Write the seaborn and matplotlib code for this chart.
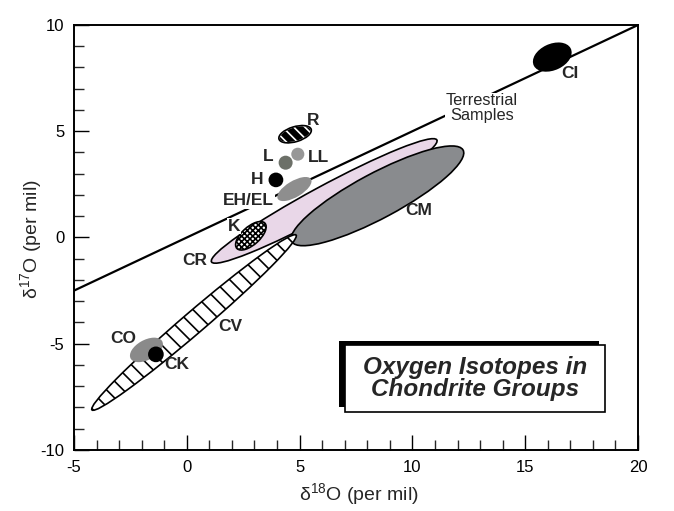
import numpy as np
import pandas as pd
import matplotlib.pyplot as plt
import seaborn as sns
import matplotlib.patheffects as pe
from matplotlib.patches import Ellipse, Rectangle
from matplotlib.ticker import MultipleLocator

# Terrestrial fractionation line (delta18O, delta17O)
terr_x = [-5, 20]
terr_y = [-2.5, 10]

# Chondrite group fields: centre, long axis, short axis, tilt (data units / degrees)
groups = ['CV', 'CR', 'CM', 'K', 'EH/EL', 'H', 'L', 'LL', 'R', 'CO', 'CK', 'CI']
cen_x = [0.32, 6.09, 8.45, 2.84, 4.77, 3.95, 4.38, 4.92, 4.80, -1.79, -1.37, 16.20]
cen_y = [-4.00, 1.72, 1.96, 0.08, 2.28, 2.71, 3.52, 3.92, 4.86, -5.29, -5.50, 8.49]
long_ax = [12.23, 11.52, 8.73, 1.72, 1.74, 0.58, 0.62, 0.58, 1.50, 1.62, 0.62, 1.75]
short_ax = [1.00, 1.35, 2.10, 0.82, 0.75, 0.61, 0.66, 0.61, 0.70, 0.92, 0.66, 1.15]
tilt = [42.3, 29.9, 29.7, 44.5, 32.8, 0, 0, 0, 18.3, 31.5, 0, 27.0]

# Labels
label_text = ['CI', 'Terrestrial\nSamples', 'R', 'L', 'LL', 'H', 'EH/EL', 'K',
              'CR', 'CM', 'CV', 'CO', 'CK']
label_x = [16.96, 13.07, 5.58, 3.61, 5.83, 3.10, 2.73, 2.11, 0.33, 10.26, 1.91, -2.81, -0.45]
label_y = [7.73, 6.08, 5.50, 3.80, 3.77, 2.71, 1.72, 0.54, -1.09, 1.25, -4.20, -4.74, -6.00]
masked = ['Terrestrial\nSamples', 'K', 'EH/EL']

# fill / hatch style per group
style = {
    'CV':    dict(fc='white', ec='black', hatch='\\\\', z=4),
    'CR':    dict(fc='#e9d7e8', ec='black', hatch=None, z=2),
    'CM':    dict(fc='#898b8e', ec='black', hatch=None, z=3),
    'K':     dict(fc='white', ec='black', hatch='xxxxxx', z=5),
    'EH/EL': dict(fc='#8e8e8e', ec='none', hatch=None, z=5),
    'H':     dict(fc='black', ec='black', hatch=None, z=5),
    'L':     dict(fc='#6c7068', ec='none', hatch=None, z=5),
    'LL':    dict(fc='#979797', ec='none', hatch=None, z=5),
    'R':     dict(fc='black', ec='white', hatch='\\\\\\', z=5),
    'CO':    dict(fc='#8a8a8a', ec='none', hatch=None, z=5),
    'CK':    dict(fc='black', ec='black', hatch=None, z=6),
    'CI':    dict(fc='black', ec='black', hatch=None, z=5),
}

sns.set_theme(style='ticks')
plt.rcParams['font.family'] = ['Liberation Sans', 'DejaVu Sans']
plt.rcParams['mathtext.fontset'] = 'custom'
plt.rcParams['mathtext.rm'] = 'Liberation Sans'
plt.rcParams['axes.unicode_minus'] = False
plt.rcParams['hatch.linewidth'] = 1.2

fig = plt.figure(figsize=(6.74, 5.11), dpi=100)
ax = fig.add_axes([0.1098, 0.1194, 0.8368, 0.8317])

sns.lineplot(x=terr_x, y=terr_y, color='black', lw=1.6, ax=ax, zorder=1)

for g, x, y, w, h, a in zip(groups, cen_x, cen_y, long_ax, short_ax, tilt):
    s = style[g]
    e = Ellipse((x, y), w, h, angle=a, facecolor=s['fc'], edgecolor=s['ec'],
                hatch=s['hatch'], lw=1.2, zorder=s['z'])
    ax.add_patch(e)
    if g == 'R':
        ax.add_patch(Ellipse((x, y), w, h, angle=a, fill=False, edgecolor='black',
                             lw=1.2, zorder=s['z'] + 0.1))

for t, x, y in zip(label_text, label_x, label_y):
    bold = not t.startswith('Terrestrial')
    bbox = dict(fc='white', ec='none', pad=0.5) if t in masked else None
    ax.text(x, y, t, ha='center', va='center', fontsize=12.5 if bold else 11.8,
            fontweight='bold' if bold else 'normal', linespacing=1.0,
            bbox=bbox, zorder=7)

# title box with drop shadow
box = Rectangle((0.480, 0.090), 0.461, 0.157, transform=ax.transAxes,
                facecolor='white', edgecolor='black', lw=1.2, zorder=8)
box.set_path_effects([pe.SimplePatchShadow(offset=(-4.0, 3.2), shadow_rgbFace='black', alpha=1),
                      pe.Normal()])
ax.add_patch(box)
ax.text(0.711, 0.169, 'Oxygen Isotopes in\nChondrite Groups', transform=ax.transAxes,
        ha='center', va='center', fontsize=17.5, fontweight='bold', style='italic',
        linespacing=0.95, zorder=9)

ax.set_xlim(-5, 20)
ax.set_ylim(-10, 10)
ax.xaxis.set_major_locator(MultipleLocator(5))
ax.xaxis.set_minor_locator(MultipleLocator(1))
ax.yaxis.set_major_locator(MultipleLocator(5))
ax.yaxis.set_minor_locator(MultipleLocator(1))
ax.tick_params(which='major', direction='in', length=10.5, width=1, labelsize=12,
               pad=7, top=False, right=False, colors='black')
ax.tick_params(which='minor', direction='in', length=7.5, width=1, top=False, right=False)
for sp in ax.spines.values():
    sp.set_visible(True)
    sp.set_linewidth(1.4)
    sp.set_color('black')

ax.set_xlabel(r'δ$^{\mathregular{18}}$O (per mil)', fontsize=14)
ax.set_ylabel(r'δ$^{\mathregular{17}}$O (per mil)', fontsize=14)
ax.xaxis.set_label_coords(0.505, -0.073)
ax.yaxis.set_label_coords(-0.052, 0.495)

fig.savefig('out.png', dpi=100)
